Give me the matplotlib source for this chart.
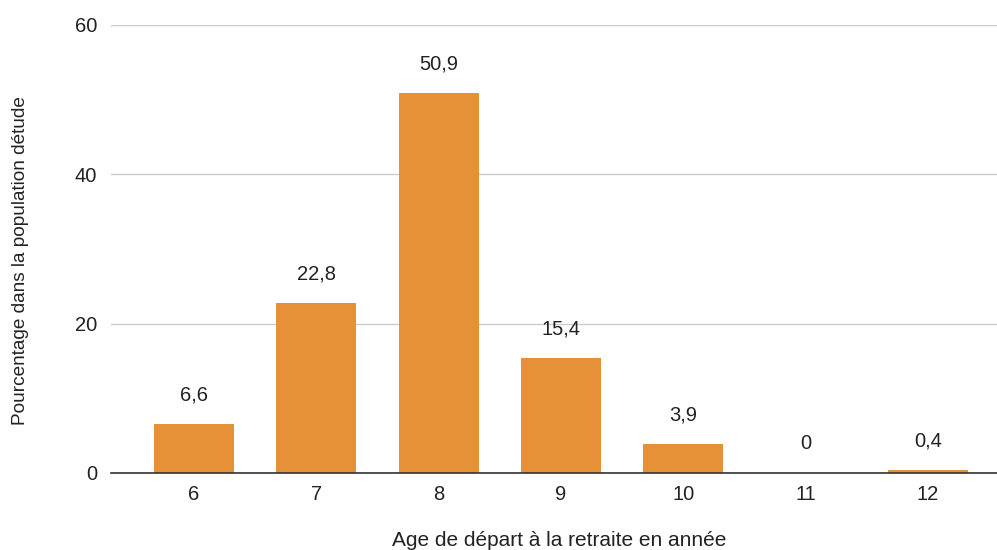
import matplotlib
matplotlib.use("Agg")
import matplotlib.pyplot as plt

categories = ["6", "7", "8", "9", "10", "11", "12"]
values = [6.6, 22.8, 50.9, 15.4, 3.9, 0.0, 0.4]
labels = ["6,6", "22,8", "50,9", "15,4", "3,9", "0", "0,4"]
yticks = [0, 20, 40, 60]

plt.rcParams['font.family'] = ['Liberation Sans', 'DejaVu Sans']

W, H = 997, 550
fig = plt.figure(figsize=(W / 100, H / 100), dpi=100)
ax = fig.add_axes([111 / W, 1 - 473 / H, (997 - 111) / W, (473 - 25) / H])

x = list(range(len(categories)))
ax.bar(x, values, width=0.654, color="#E69138", zorder=3)
for xi, v, lab in zip(x, values, labels):
    ax.annotate(lab, (xi, v), xytext=(0, 21), textcoords="offset points",
                ha="center", va="center", fontsize=14.5, color="#222222")

ax.set_xlim(-0.678, 6.564)
ax.set_ylim(0, 60)
ax.set_xticks(x)
ax.set_xticklabels(categories)
ax.set_yticks(yticks)
ax.tick_params(axis="both", length=0, labelsize=14.5, labelcolor="#222222")
ax.tick_params(axis="x", pad=9)
ax.tick_params(axis="y", pad=10)
ax.grid(axis="y", color="#cccccc", linewidth=1, zorder=0)
for s in ["top", "right", "left"]:
    ax.spines[s].set_visible(False)
ax.spines["bottom"].set_color("#333333")
ax.spines["bottom"].set_linewidth(1.2)
ax.spines["bottom"].set_zorder(4)

fig.text(21 / W, 1 - 261 / H, "Pourcentage dans la population détude",
         rotation=90, ha="center", va="center", fontsize=13.7, color="#222222")
fig.text(559 / W, 1 - 541 / H, "Age de départ à la retraite en année",
         ha="center", va="center", fontsize=15, color="#222222")

fig.savefig("out.png", dpi=100)
